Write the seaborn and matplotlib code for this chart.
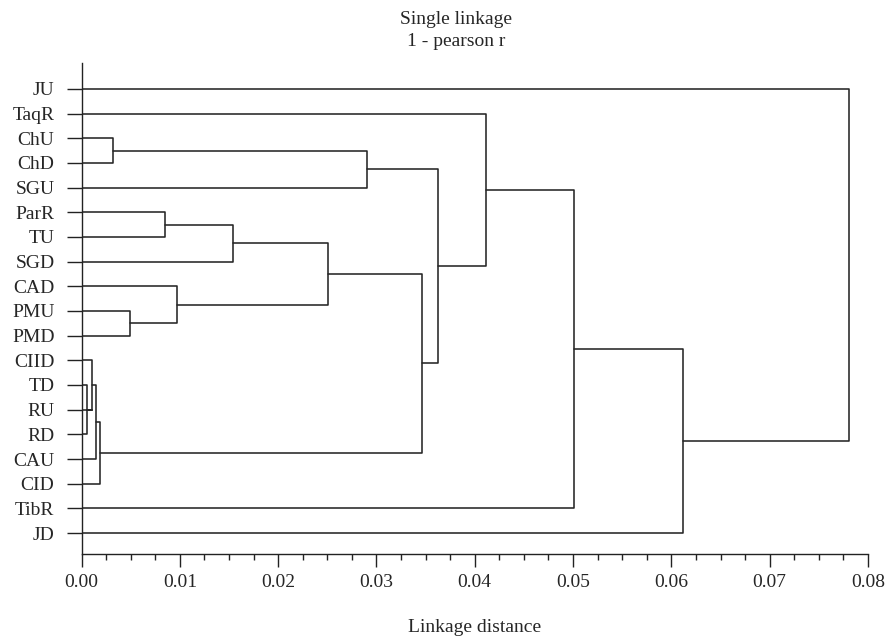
import numpy as np
import pandas as pd
import matplotlib
matplotlib.use("Agg")
import matplotlib.pyplot as plt
import seaborn as sns
from matplotlib.ticker import MultipleLocator

# ---- data ----
leaves = ["JU", "TaqR", "ChU", "ChD", "SGU", "ParR", "TU", "SGD", "CAD",
          "PMU", "PMD", "CIID", "TD", "RU", "RD", "CAU", "CID", "TibR", "JD"]
# merges: (left member, right member, linkage distance); "nK" = result of merge K
merge_left = ["ChU", "n0", "ParR", "n2", "PMU", "CAD", "n3", "TD", "RU", "CIID",
              "n9", "n10", "n6", "n1", "TaqR", "n14", "n15", "JU"]
merge_right = ["ChD", "SGU", "TU", "SGD", "PMD", "n4", "n5", "RD", "n7", "n8",
               "CAU", "CID", "n11", "n12", "n13", "TibR", "JD", "n16"]
merge_dist = [0.0032, 0.0290, 0.0085, 0.0154, 0.0049, 0.0097, 0.0251, 0.00056,
              0.00104, 0.00104, 0.00147, 0.00188, 0.0346, 0.0363, 0.0411,
              0.0501, 0.0612, 0.0781]
x_ticks = [0.00, 0.01, 0.02, 0.03, 0.04, 0.05, 0.06, 0.07, 0.08]
title_lines = ["Single linkage", "1 - pearson r"]
x_label = "Linkage distance"

# ---- build segments ----
pos = {name: (0.0, float(i)) for i, name in enumerate(leaves)}
rows = []
for k, (a, b, d) in enumerate(zip(merge_left, merge_right, merge_dist)):
    xa, ya = pos[a]
    xb, yb = pos[b]
    for j, (xx, yy) in enumerate([(xa, ya), (d, ya), (d, yb), (xb, yb)]):
        rows.append({"link": k, "order": j, "x": xx, "y": yy})
    pos[f"n{k}"] = (d, (ya + yb) / 2)
df = pd.DataFrame(rows)

# ---- plot ----
sns.set_theme(style="ticks")
plt.rcParams["font.family"] = ["Liberation Serif", "DejaVu Serif"]
plt.rcParams["font.size"] = 14

W, H = 892, 638
fig = plt.figure(figsize=(W / 100, H / 100), dpi=100)
ax = fig.add_axes([81.5 / W, 1 - 554 / H, (868 - 81.5) / W, (554 - 63) / H])

sns.lineplot(data=df, x="x", y="y", units="link", estimator=None, sort=False,
             color="#262626", linewidth=1.15, ax=ax, legend=False)

ax.set_xlim(0, 0.08)
ax.set_ylim(18.85, -1.05)
ax.set_yticks(range(len(leaves)))
ax.set_yticklabels(leaves, fontsize=14)
ax.set_xticks(x_ticks)
ax.set_xticklabels([f"{v:.2f}" for v in x_ticks], fontsize=14)
ax.xaxis.set_minor_locator(MultipleLocator(0.0025))
ax.tick_params(axis="y", length=10.5, width=1.0, pad=9, color="#222222")
ax.tick_params(axis="x", which="major", length=9.5, width=1.0, pad=5, color="#222222")
ax.tick_params(axis="x", which="minor", length=4.5, width=1.0, color="#222222")
for side in ("top", "right"):
    ax.spines[side].set_visible(False)
for side in ("left", "bottom"):
    ax.spines[side].set_linewidth(1.0)
    ax.spines[side].set_color("#222222")
ax.set_xlabel(x_label, fontsize=14, labelpad=20)
ax.set_ylabel("")

fig.text(456 / W, 1 - 19 / H, title_lines[0], ha="center", va="center", fontsize=14)
fig.text(456 / W, 1 - 42 / H, title_lines[1], ha="center", va="center", fontsize=14)

fig.savefig("out.png", dpi=100)
